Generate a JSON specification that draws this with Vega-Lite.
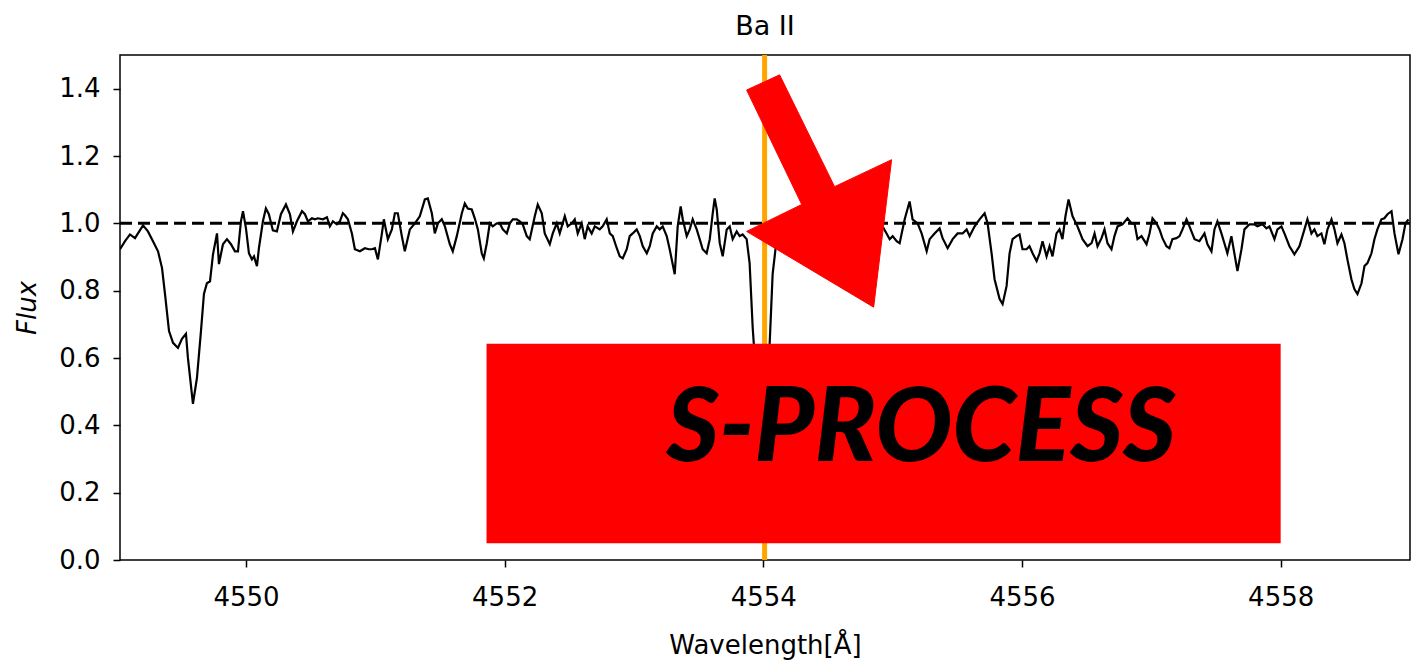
{
  "$schema": "https://vega.github.io/schema/vega-lite/v6.json",
  "width": 1290,
  "height": 505,
  "autosize": {"type": "none"},
  "padding": {"left": 120, "top": 55, "right": 12, "bottom": 107},
  "background": "white",
  "title": {"text": "Ba II", "fontSize": 27, "fontWeight": "normal", "font": "DejaVu Sans", "color": "black", "offset": 12, "anchor": "middle"},
  "config": {
    "font": "DejaVu Sans",
    "view": {"stroke": "black", "strokeWidth": 1.5},
    "axis": {"grid": false, "domain": false, "tickColor": "black", "tickWidth": 1.5, "tickSize": 7, "labelFontSize": 26, "labelColor": "black", "titleFontSize": 26, "titleColor": "black", "titleFontWeight": "normal", "labelFont": "DejaVu Sans", "titleFont": "DejaVu Sans"}
  },
  "datasets": {
    "spec": [
      {"w":4549.026,"f":0.923},{"w":4549.065,"f":0.947},{"w":4549.103,"f":0.967},{"w":4549.142,"f":0.956},{"w":4549.165,"f":0.970},{"w":4549.204,"f":0.994},{"w":4549.242,"f":0.976},{"w":4549.281,"f":0.947},{"w":4549.320,"f":0.917},{"w":4549.351,"f":0.867},{"w":4549.374,"f":0.790},{"w":4549.405,"f":0.680},{"w":4549.436,"f":0.645},{"w":4549.474,"f":0.630},{"w":4549.505,"f":0.657},{"w":4549.536,"f":0.672},{"w":4549.551,"f":0.601},{"w":4549.590,"f":0.464},{"w":4549.621,"f":0.541},{"w":4549.652,"f":0.680},{"w":4549.675,"f":0.790},{"w":4549.698,"f":0.822},{"w":4549.722,"f":0.828},{"w":4549.745,"f":0.908},{"w":4549.776,"f":0.970},{"w":4549.791,"f":0.879},{"w":4549.822,"f":0.938},{"w":4549.853,"f":0.953},{"w":4549.884,"f":0.938},{"w":4549.915,"f":0.917},{"w":4549.938,"f":0.917},{"w":4549.961,"f":1.006},{"w":4549.977,"f":1.036},{"w":4550.000,"f":0.985},{"w":4550.023,"f":0.911},{"w":4550.046,"f":0.893},{"w":4550.062,"f":0.902},{"w":4550.085,"f":0.873},{"w":4550.100,"f":0.926},{"w":4550.131,"f":1.006},{"w":4550.154,"f":1.044},{"w":4550.177,"f":1.027},{"w":4550.208,"f":0.979},{"w":4550.239,"f":0.976},{"w":4550.270,"f":1.027},{"w":4550.309,"f":1.056},{"w":4550.340,"f":1.027},{"w":4550.363,"f":0.976},{"w":4550.394,"f":1.006},{"w":4550.433,"f":1.036},{"w":4550.456,"f":1.027},{"w":4550.479,"f":1.006},{"w":4550.510,"f":1.015},{"w":4550.533,"f":1.012},{"w":4550.556,"f":1.015},{"w":4550.595,"f":1.012},{"w":4550.626,"f":1.018},{"w":4550.649,"f":0.991},{"w":4550.672,"f":1.006},{"w":4550.703,"f":0.997},
      {"w":4550.726,"f":1.006},{"w":4550.749,"f":1.030},{"w":4550.765,"f":1.024},{"w":4550.788,"f":1.012},{"w":4550.819,"f":0.970},{"w":4550.842,"f":0.923},{"w":4550.881,"f":0.917},{"w":4550.919,"f":0.926},{"w":4550.950,"f":0.923},{"w":4550.974,"f":0.923},{"w":4550.997,"f":0.926},{"w":4551.020,"f":0.893},{"w":4551.051,"f":0.970},{"w":4551.066,"f":1.012},{"w":4551.097,"f":0.953},{"w":4551.128,"f":0.982},{"w":4551.151,"f":1.030},{"w":4551.174,"f":1.030},{"w":4551.205,"f":0.962},{"w":4551.228,"f":0.917},{"w":4551.267,"f":0.982},{"w":4551.306,"f":1.000},{"w":4551.344,"f":1.021},{"w":4551.383,"f":1.071},{"w":4551.406,"f":1.074},{"w":4551.437,"f":1.030},{"w":4551.460,"f":0.970},{"w":4551.484,"f":1.000},{"w":4551.514,"f":1.012},{"w":4551.538,"f":0.991},{"w":4551.576,"f":0.938},{"w":4551.599,"f":0.917},{"w":4551.630,"f":0.962},{"w":4551.669,"f":1.030},{"w":4551.692,"f":1.059},{"w":4551.715,"f":1.044},{"w":4551.746,"f":1.041},{"w":4551.769,"f":1.015},{"w":4551.793,"f":0.982},{"w":4551.823,"f":0.911},{"w":4551.839,"f":0.896},{"w":4551.862,"f":0.941},{"w":4551.885,"f":1.000},{"w":4551.908,"f":0.991},{"w":4551.939,"f":1.000},{"w":4551.962,"f":1.000},{"w":4551.986,"f":0.982},{"w":4552.017,"f":0.970},{"w":4552.040,"f":1.000},{"w":4552.063,"f":1.012},{"w":4552.094,"f":1.012},{"w":4552.117,"f":1.006},{"w":4552.140,"f":0.997},{"w":4552.171,"f":0.962},{"w":4552.194,"f":0.953},{"w":4552.233,"f":1.021},{"w":4552.256,"f":1.056},{"w":4552.287,"f":1.030},{"w":4552.310,"f":0.970},{"w":4552.349,"f":0.938},
      {"w":4552.372,"f":0.970},{"w":4552.403,"f":1.000},{"w":4552.426,"f":0.970},{"w":4552.465,"f":1.021},{"w":4552.488,"f":0.991},{"w":4552.519,"f":1.000},{"w":4552.542,"f":1.012},{"w":4552.565,"f":0.970},{"w":4552.596,"f":1.000},{"w":4552.619,"f":0.953},{"w":4552.642,"f":0.991},{"w":4552.673,"f":0.970},{"w":4552.697,"f":0.991},{"w":4552.735,"f":0.982},{"w":4552.758,"f":0.991},{"w":4552.789,"f":1.012},{"w":4552.813,"f":0.970},{"w":4552.836,"f":0.962},{"w":4552.867,"f":0.926},{"w":4552.890,"f":0.902},{"w":4552.913,"f":0.896},{"w":4552.944,"f":0.923},{"w":4552.967,"f":0.962},{"w":4552.990,"f":0.970},{"w":4553.021,"f":0.982},{"w":4553.045,"f":0.962},{"w":4553.068,"f":0.932},{"w":4553.099,"f":0.911},{"w":4553.122,"f":0.932},{"w":4553.145,"f":0.970},{"w":4553.176,"f":0.991},{"w":4553.199,"f":0.982},{"w":4553.222,"f":0.991},{"w":4553.253,"f":0.962},{"w":4553.276,"f":0.923},{"w":4553.315,"f":0.849},{"w":4553.338,"f":0.991},{"w":4553.361,"f":1.050},{"w":4553.377,"f":1.012},{"w":4553.408,"f":0.962},{"w":4553.431,"f":0.982},{"w":4553.454,"f":1.012},{"w":4553.485,"f":0.982},{"w":4553.508,"f":0.953},{"w":4553.531,"f":0.923},{"w":4553.562,"f":0.911},{"w":4553.586,"f":0.953},{"w":4553.609,"f":1.030},{"w":4553.624,"f":1.074},{"w":4553.640,"f":1.041},{"w":4553.663,"f":0.941},{"w":4553.686,"f":0.902},{"w":4553.717,"f":0.982},{"w":4553.740,"f":0.991},{"w":4553.763,"f":0.953},{"w":4553.794,"f":0.976},{"w":4553.817,"f":0.962},{"w":4553.840,"f":0.967},{"w":4553.871,"f":0.953},{"w":4553.894,"f":0.882},{"w":4553.918,"f":0.689},
      {"w":4553.941,"f":0.562},{"w":4553.964,"f":0.473},{"w":4553.987,"f":0.444},{"w":4554.010,"f":0.488},{"w":4554.034,"f":0.577},{"w":4554.049,"f":0.642},{"w":4554.072,"f":0.849},{"w":4554.095,"f":0.926},{"w":4554.126,"f":0.970},{"w":4554.157,"f":0.988},{"w":4554.188,"f":0.976},{"w":4554.219,"f":1.006},{"w":4554.250,"f":0.982},{"w":4554.281,"f":0.959},{"w":4554.312,"f":0.991},{"w":4554.343,"f":1.012},{"w":4554.374,"f":0.982},{"w":4554.405,"f":0.970},{"w":4554.436,"f":0.994},{"w":4554.466,"f":1.006},{"w":4554.497,"f":0.976},{"w":4554.528,"f":0.953},{"w":4554.559,"f":0.988},{"w":4554.590,"f":1.000},{"w":4554.621,"f":1.018},{"w":4554.652,"f":0.982},{"w":4554.683,"f":0.964},{"w":4554.714,"f":0.982},{"w":4554.745,"f":1.000},{"w":4554.776,"f":0.976},{"w":4554.806,"f":0.959},{"w":4554.837,"f":0.988},{"w":4554.868,"f":1.000},{"w":4554.899,"f":0.982},
      {"w":4554.922,"f":0.991},{"w":4554.953,"f":0.970},{"w":4554.977,"f":0.953},{"w":4555.000,"f":0.962},{"w":4555.031,"f":0.947},{"w":4555.054,"f":0.941},{"w":4555.093,"f":1.012},{"w":4555.131,"f":1.065},{"w":4555.154,"f":1.012},{"w":4555.193,"f":1.000},{"w":4555.224,"f":0.970},{"w":4555.263,"f":0.917},{"w":4555.286,"f":0.953},{"w":4555.324,"f":0.970},{"w":4555.363,"f":0.985},{"w":4555.386,"f":0.956},{"w":4555.425,"f":0.926},{"w":4555.464,"f":0.953},{"w":4555.502,"f":0.970},{"w":4555.541,"f":0.970},{"w":4555.572,"f":0.982},{"w":4555.595,"f":0.962},{"w":4555.634,"f":0.991},{"w":4555.672,"f":1.012},{"w":4555.711,"f":1.030},{"w":4555.734,"f":1.000},{"w":4555.765,"f":0.911},{"w":4555.788,"f":0.834},{"w":4555.827,"f":0.775},{"w":4555.850,"f":0.760},{"w":4555.881,"f":0.814},{"w":4555.904,"f":0.911},{"w":4555.927,"f":0.953},{"w":4555.958,"f":0.962},{"w":4555.981,"f":0.967},{"w":4556.004,"f":0.923},{"w":4556.035,"f":0.923},{"w":4556.058,"f":0.932},{"w":4556.082,"f":0.911},{"w":4556.113,"f":0.888},{"w":4556.136,"f":0.911},{"w":4556.159,"f":0.947},{"w":4556.190,"f":0.902},{"w":4556.213,"f":0.932},{"w":4556.236,"f":0.902},{"w":4556.267,"f":0.970},{"w":4556.290,"f":0.982},{"w":4556.313,"f":0.953},{"w":4556.336,"f":1.021},{"w":4556.360,"f":1.071},{"w":4556.391,"f":1.021},{"w":4556.429,"f":0.991},{"w":4556.468,"f":0.953},
      {"w":4556.507,"f":0.932},{"w":4556.538,"f":0.941},{"w":4556.561,"f":0.970},{"w":4556.584,"f":0.932},{"w":4556.615,"f":0.956},{"w":4556.638,"f":0.982},{"w":4556.661,"f":0.941},{"w":4556.692,"f":0.923},{"w":4556.715,"f":0.962},{"w":4556.739,"f":0.991},{"w":4556.777,"f":0.997},{"w":4556.816,"f":1.015},{"w":4556.847,"f":1.000},{"w":4556.870,"f":1.000},{"w":4556.893,"f":0.953},{"w":4556.924,"f":0.962},{"w":4556.963,"f":0.938},{"w":4556.986,"f":0.970},{"w":4557.009,"f":1.015},{"w":4557.040,"f":1.000},{"w":4557.063,"f":0.982},{"w":4557.086,"f":0.956},{"w":4557.117,"f":0.932},{"w":4557.140,"f":0.926},{"w":4557.163,"f":0.953},{"w":4557.194,"f":0.956},{"w":4557.218,"f":0.962},{"w":4557.241,"f":0.982},{"w":4557.272,"f":1.012},{"w":4557.295,"f":0.991},{"w":4557.334,"f":0.953},{"w":4557.372,"f":0.947},{"w":4557.411,"f":0.970},{"w":4557.434,"f":0.938},{"w":4557.465,"f":0.917},{"w":4557.488,"f":0.982},{"w":4557.511,"f":1.006},{"w":4557.542,"f":0.970},{"w":4557.565,"f":0.941},{"w":4557.588,"f":0.911},{"w":4557.619,"f":0.962},{"w":4557.642,"f":0.911},{"w":4557.666,"f":0.858},{"w":4557.697,"f":0.923},{"w":4557.720,"f":0.982},{"w":4557.759,"f":0.997},{"w":4557.797,"f":0.997},{"w":4557.820,"f":0.991},{"w":4557.859,"f":0.997},{"w":4557.890,"f":0.985},{"w":4557.913,"f":0.991},{"w":4557.952,"f":0.953},{"w":4557.975,"f":0.982},{"w":4558.006,"f":0.991},{"w":4558.029,"f":0.970},{"w":4558.068,"f":0.932},{"w":4558.106,"f":0.908},
      {"w":4558.145,"f":0.932},{"w":4558.184,"f":0.982},{"w":4558.207,"f":1.012},{"w":4558.238,"f":0.970},{"w":4558.261,"f":0.982},{"w":4558.284,"f":0.962},{"w":4558.315,"f":0.970},{"w":4558.338,"f":0.938},{"w":4558.362,"f":0.982},{"w":4558.393,"f":1.012},{"w":4558.416,"f":0.982},{"w":4558.439,"f":0.941},{"w":4558.470,"f":0.967},{"w":4558.493,"f":0.941},{"w":4558.516,"f":0.893},{"w":4558.547,"f":0.834},{"w":4558.570,"f":0.805},{"w":4558.594,"f":0.790},{"w":4558.625,"f":0.822},{"w":4558.648,"f":0.873},{"w":4558.671,"f":0.882},{"w":4558.702,"f":0.911},{"w":4558.725,"f":0.953},{"w":4558.748,"f":0.982},{"w":4558.779,"f":1.012},{"w":4558.802,"f":1.015},{"w":4558.826,"f":1.027},{"w":4558.857,"f":1.036},{"w":4558.880,"f":0.970},{"w":4558.911,"f":0.908},{"w":4558.942,"f":0.953},{"w":4558.965,"f":1.000},{"w":4558.988,"f":1.012}
    ],
    "arrow": [
      {"o":1,"w":4553.871,"f":1.396},
      {"o":2,"w":4554.126,"f":1.441},
      {"o":3,"w":4554.551,"f":1.109},
      {"o":4,"w":4554.992,"f":1.189},
      {"o":5,"w":4554.853,"f":0.751},
      {"o":6,"w":4553.871,"f":0.976},
      {"o":7,"w":4554.297,"f":1.056}
    ],
    "box": [{"w":4551.86,"w2":4558.0,"f":0.050,"f2":0.642}],
    "label": [{"w":4555.22,"f":0.385,"t":"S-PROCESS"}],
    "ref": [{"f":1.0}],
    "line": [{"w":4554.01}]
  },
  "layer": [
    {
      "data": {"name": "spec"},
      "mark": {"type": "line", "color": "black", "strokeWidth": 2.2, "clip": true},
      "encoding": {
        "x": {"field": "w", "type": "quantitative", "scale": {"domain": [4549.026, 4559.0], "nice": false, "zero": false},
              "axis": {"values": [4550, 4552, 4554, 4556, 4558], "format": "d", "title": "Wavelength[Å]", "labelPadding": 17, "titlePadding": 22}},
        "y": {"field": "f", "type": "quantitative", "scale": {"domain": [0, 1.5], "nice": false, "zero": false},
              "axis": {"values": [0, 0.2, 0.4, 0.6, 0.8, 1.0, 1.2, 1.4], "format": ".1f", "title": "Flux", "titleFontStyle": "italic", "labelPadding": 13, "titlePadding": 18}}
      }
    },
    {
      "data": {"name": "ref"},
      "mark": {"type": "rule", "color": "black", "strokeWidth": 3, "strokeDash": [12, 6]},
      "encoding": {
        "y": {"field": "f", "type": "quantitative", "scale": {"domain": [0, 1.5], "nice": false, "zero": false},
              "axis": {"values": [0, 0.2, 0.4, 0.6, 0.8, 1.0, 1.2, 1.4], "format": ".1f", "title": "Flux", "titleFontStyle": "italic", "labelPadding": 13, "titlePadding": 18}}
      }
    },
    {
      "data": {"name": "line"},
      "mark": {"type": "rule", "color": "#FFA500", "strokeWidth": 5},
      "encoding": {
        "x": {"field": "w", "type": "quantitative", "scale": {"domain": [4549.026, 4559.0], "nice": false, "zero": false},
              "axis": {"values": [4550, 4552, 4554, 4556, 4558], "format": "d", "title": "Wavelength[Å]", "labelPadding": 17, "titlePadding": 22}}
      }
    },
    {
      "data": {"name": "box"},
      "mark": {"type": "rect", "color": "#FF0000", "opacity": 1},
      "encoding": {
        "x": {"field": "w", "type": "quantitative", "scale": {"domain": [4549.026, 4559.0], "nice": false, "zero": false},
              "axis": {"values": [4550, 4552, 4554, 4556, 4558], "format": "d", "title": "Wavelength[Å]", "labelPadding": 17, "titlePadding": 22}},
        "x2": {"field": "w2"},
        "y": {"field": "f", "type": "quantitative", "scale": {"domain": [0, 1.5], "nice": false, "zero": false},
              "axis": {"values": [0, 0.2, 0.4, 0.6, 0.8, 1.0, 1.2, 1.4], "format": ".1f", "title": "Flux", "titleFontStyle": "italic", "labelPadding": 13, "titlePadding": 18}},
        "y2": {"field": "f2"}
      }
    },
    {
      "data": {"name": "arrow"},
      "mark": {"type": "line", "interpolate": "linear-closed", "fill": "#FF0000", "stroke": "#FF0000", "strokeWidth": 1, "fillOpacity": 1},
      "encoding": {
        "x": {"field": "w", "type": "quantitative", "scale": {"domain": [4549.026, 4559.0], "nice": false, "zero": false},
              "axis": {"values": [4550, 4552, 4554, 4556, 4558], "format": "d", "title": "Wavelength[Å]", "labelPadding": 17, "titlePadding": 22}},
        "y": {"field": "f", "type": "quantitative", "scale": {"domain": [0, 1.5], "nice": false, "zero": false},
              "axis": {"values": [0, 0.2, 0.4, 0.6, 0.8, 1.0, 1.2, 1.4], "format": ".1f", "title": "Flux", "titleFontStyle": "italic", "labelPadding": 13, "titlePadding": 18}},
        "order": {"field": "o", "type": "quantitative"}
      }
    },
    {
      "data": {"name": "label"},
      "mark": {"type": "text", "font": "Lato", "fontWeight": 900, "fontStyle": "italic", "fontSize": 102, "color": "black", "align": "center", "baseline": "middle"},
      "encoding": {
        "x": {"field": "w", "type": "quantitative", "scale": {"domain": [4549.026, 4559.0], "nice": false, "zero": false},
              "axis": {"values": [4550, 4552, 4554, 4556, 4558], "format": "d", "title": "Wavelength[Å]", "labelPadding": 17, "titlePadding": 22}},
        "y": {"field": "f", "type": "quantitative", "scale": {"domain": [0, 1.5], "nice": false, "zero": false},
              "axis": {"values": [0, 0.2, 0.4, 0.6, 0.8, 1.0, 1.2, 1.4], "format": ".1f", "title": "Flux", "titleFontStyle": "italic", "labelPadding": 13, "titlePadding": 18}},
        "text": {"field": "t"}
      }
    }
  ]
}
